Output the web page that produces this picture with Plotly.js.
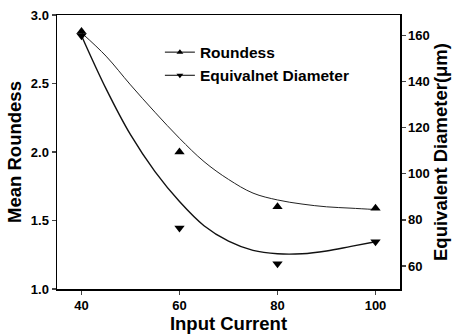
<!DOCTYPE html>
<html>
<head>
<meta charset="utf-8">
<script src="https://cdn.plot.ly/plotly-3.0.1.min.js"></script>
<style>html,body{margin:0;padding:0;background:#fff}#chart{width:459px;height:335px}</style>
</head>
<body>
<div id="chart"></div>
<script>
// Measured data
var current = [40, 60, 80, 100];
var roundness = [2.88, 2.0, 1.6, 1.59];
var diameter = [160, 76.5, 61, 70.5];

// Fitted curves
var fitX = [40, 45, 50, 55, 60, 65, 70, 75, 80, 85, 90, 95, 100];
var roundFit = [2.87, 2.70, 2.49, 2.29, 2.10, 1.93, 1.80, 1.70, 1.65, 1.62, 1.60, 1.59, 1.58];
var diamFit = [160, 137, 117, 101, 88, 77.5, 70.8, 66.8, 65.3, 65.3, 66.5, 68.5, 70.5];

var xTicks = [40, 60, 80, 100];
var yTicks = [1.0, 1.5, 2.0, 2.5, 3.0];
var y2Ticks = [60, 80, 100, 120, 140, 160];

var fam = 'Liberation Sans, Arial, sans-serif';
var traces = [
  {x: fitX, y: roundFit, mode: 'lines', line: {color: '#222', width: 1, shape: 'spline'}, showlegend: false, hoverinfo: 'skip'},
  {x: fitX, y: diamFit, yaxis: 'y2', mode: 'lines', line: {color: '#111', width: 1.4, shape: 'spline'}, showlegend: false, hoverinfo: 'skip'},
  {x: current, y: roundness, mode: 'markers', marker: {symbol: 'triangle-up', size: 9, color: '#000'}, showlegend: false},
  {x: current, y: diameter, yaxis: 'y2', mode: 'markers', marker: {symbol: 'triangle-down', size: 9, color: '#000'}, showlegend: false},
  {x: [null], y: [null], name: 'Roundess', mode: 'lines+markers', line: {color: '#000', width: 1}, marker: {symbol: 'triangle-up', size: 6, color: '#000'}},
  {x: [null], y: [null], yaxis: 'y2', name: 'Equivalnet Diameter', mode: 'lines+markers', line: {color: '#000', width: 1}, marker: {symbol: 'triangle-down', size: 6, color: '#000'}}
];

var layout = {
  width: 459, height: 335,
  margin: {l: 57, r: 59, t: 15, b: 46},
  paper_bgcolor: '#fff', plot_bgcolor: '#fff',
  font: {family: fam, color: '#000'},
  showlegend: true,
  legend: {x: 0.3, y: 0.925, xanchor: 'left', yanchor: 'top', bgcolor: 'rgba(0,0,0,0)',
    font: {family: fam, size: 15.5, weight: 'bold'}, tracegroupgap: 0, itemwidth: 30},
  xaxis: {range: [35, 105], tickvals: xTicks, ticks: 'outside', ticklen: 4, tickwidth: 1.2,
    showline: true, linecolor: '#000', linewidth: 1.5, mirror: true, showgrid: false, zeroline: false,
    tickfont: {family: fam, size: 13, weight: 'bold'},
    title: {text: 'Input Current', font: {family: fam, size: 18.5, weight: 'bold'}, standoff: 2}},
  yaxis: {range: [1, 3], tickvals: yTicks, ticktext: ['1.0','1.5','2.0','2.5','3.0'], ticks: 'outside', ticklen: 4, tickwidth: 1.2,
    showline: true, linecolor: '#000', linewidth: 1.5, mirror: true, showgrid: false, zeroline: false,
    tickfont: {family: fam, size: 13, weight: 'bold'},
    title: {text: 'Mean Roundess', font: {family: fam, size: 18.5, weight: 'bold'}, standoff: 4}},
  yaxis2: {range: [50, 169], overlaying: 'y', side: 'right', tickvals: y2Ticks, ticks: 'outside', ticklen: 4, tickwidth: 1.2,
    showline: true, linecolor: '#000', linewidth: 1.5, showgrid: false, zeroline: false,
    tickfont: {family: fam, size: 13, weight: 'bold'},
    title: {text: 'Equivalent Diameter(μm)', font: {family: fam, size: 18.5, weight: 'bold'}, standoff: 4}}
};

Plotly.newPlot('chart', traces, layout, {displayModeBar: false, staticPlot: true});
</script>
</body>
</html>
